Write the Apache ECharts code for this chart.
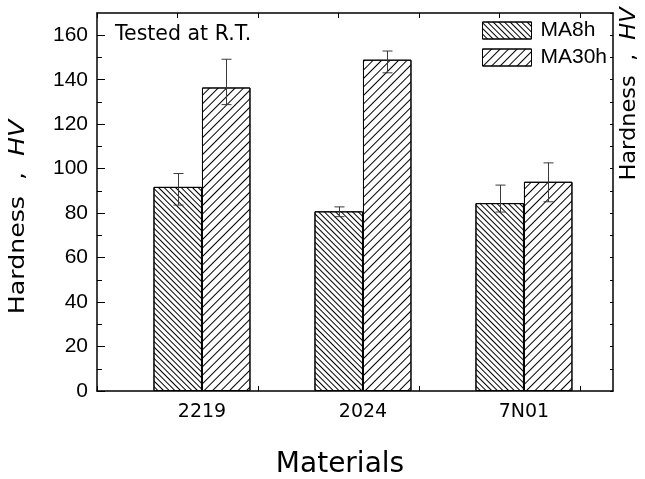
<!DOCTYPE html>
<html><head><meta charset="utf-8">
<script src="https://cdn.jsdelivr.net/npm/echarts@6/dist/echarts.min.js"></script>
<style>html,body{margin:0;padding:0;background:#fff}#c{width:645px;height:479px}</style>
</head><body><div id="c"></div>
<script>
// ---- data ----
const categories = ['2219', '2024', '7N01'];
const seriesNames = ['MA8h', 'MA30h'];
const ma8h = [91.8, 80.8, 84.5];
const ma8hErrHigh = [97.8, 82.8, 92.6];
const ma8hErrLow = [83.6, 78.4, 80.5];
const ma30h = [136.5, 149.0, 94.1];
const ma30hErrHigh = [149.2, 152.9, 102.6];
const ma30hErrLow = [128.8, 143.1, 85.1];
const yTickLabels = [0, 20, 40, 60, 80, 100, 120, 140, 160];

// ---- layout ----
const xMin = 0.348, xMax = 3.553;
const yMin = 0, yMax = 170;
const xTickVals = [];
for (let v = xMin; v <= xMax + 1e-9; v += 0.5) xTickVals.push(+v.toFixed(3));
const yMinorVals = yTickLabels.slice(0, -1).map(v => v + 10);
const yAllVals = [];
for (let v = yMin; v <= yMax; v += 10) yAllVals.push(v);
const catPos = categories.map((c, i) => i + 1);
const BAR_W = 48.5;

const chart = echarts.init(document.getElementById('c'), null, {renderer: 'canvas'});

function errorSeries(name, low, high, dx) {
  return {
    type: 'custom', name: name, xAxisIndex: 0, yAxisIndex: 0, z: 5, silent: true,
    data: low.map((l, i) => [catPos[i], l, high[i]]),
    encode: {x: 0, y: [1, 2]},
    renderItem: function (params, api) {
      const x = api.value(0);
      const lo = api.coord([x, api.value(1)]);
      const hi = api.coord([x, api.value(2)]);
      const cx = Math.round(lo[0] + dx) + 0.5;
      const hw = 5;
      const st = {stroke: '#3a3a3a', lineWidth: 1};
      return {type: 'group', children: [
        {type: 'line', shape: {x1: cx, y1: hi[1], x2: cx, y2: lo[1]}, style: st},
        {type: 'line', shape: {x1: cx - hw, y1: hi[1], x2: cx + hw, y2: hi[1]}, style: st},
        {type: 'line', shape: {x1: cx - hw, y1: lo[1], x2: cx + hw, y2: lo[1]}, style: st}
      ]};
    }
  };
}

const axisLineStyle = {color: '#000', width: 1.5};

const option = {
  animation: false,
  backgroundColor: '#fff',
  grid: {left: 97, right: 32, top: 13, bottom: 88, containLabel: false},
  legend: {
    data: seriesNames, orient: 'vertical', left: 482, top: 20, padding: 0,
    itemWidth: 49, itemHeight: 17, itemGap: 6, icon: 'rect', selectedMode: false,
    itemStyle: {borderColor: '#000', borderWidth: 1},
    textStyle: {fontFamily: 'Liberation Sans', fontSize: 21, color: '#000', padding: [0, 0, 0, 4]}
  },
  xAxis: [
    {type: 'value', position: 'bottom', min: xMin, max: xMax,
     axisLine: {onZero: false, lineStyle: axisLineStyle},
     axisTick: {inside: true, length: 5, customValues: xTickVals, lineStyle: {color: '#000'}},
     axisLabel: {customValues: catPos, formatter: v => categories[Math.round(v) - 1] || '',
                 fontFamily: 'DejaVu Sans', fontSize: 19, color: '#000', margin: 12},
     splitLine: {show: false}},
    {type: 'value', position: 'top', min: xMin, max: xMax,
     axisLine: {onZero: false, lineStyle: axisLineStyle},
     axisTick: {inside: true, length: 5, customValues: xTickVals, lineStyle: {color: '#000'}},
     axisLabel: {show: false}, splitLine: {show: false}}
  ],
  yAxis: [
    {type: 'value', position: 'left', min: yMin, max: yMax,
     axisLine: {show: true, onZero: false, lineStyle: axisLineStyle},
     axisTick: {show: true, inside: true, length: 8, customValues: yTickLabels, lineStyle: {color: '#000'}},
     axisLabel: {customValues: yTickLabels, fontFamily: 'Liberation Sans', fontSize: 21, color: '#000', margin: 9},
     splitLine: {show: false}},
    {type: 'value', position: 'left', min: yMin, max: yMax,
     axisLine: {show: false, onZero: false},
     axisTick: {show: true, inside: true, length: 5, customValues: yMinorVals, lineStyle: {color: '#000'}},
     axisLabel: {show: false}, splitLine: {show: false}},
    {type: 'value', position: 'right', min: yMin, max: yMax,
     axisLine: {show: true, onZero: false, lineStyle: axisLineStyle},
     axisTick: {show: true, inside: true, length: 3, customValues: yAllVals, lineStyle: {color: '#000'}},
     axisLabel: {show: false}, splitLine: {show: false}}
  ],
  series: [
    {type: 'bar', name: seriesNames[0], xAxisIndex: 0, yAxisIndex: 0,
     data: ma8h.map((v, i) => [catPos[i], v]), barWidth: BAR_W, barGap: '0%',
     itemStyle: {color: '#fff', borderColor: '#000', borderWidth: 1,
       decal: {symbol: 'rect', symbolSize: 1, dashArrayX: [1, 0], dashArrayY: [1, 2.5], rotation: Math.PI / 4, color: '#000'}}},
    {type: 'bar', name: seriesNames[1], xAxisIndex: 0, yAxisIndex: 0,
     data: ma30h.map((v, i) => [catPos[i], v]), barWidth: BAR_W, barGap: '0%',
     itemStyle: {color: '#fff', borderColor: '#000', borderWidth: 1,
       decal: {symbol: 'rect', symbolSize: 1, dashArrayX: [1, 0], dashArrayY: [1, 5], rotation: -Math.PI / 4, color: '#000'}}},
    errorSeries('MA8h error', ma8hErrLow, ma8hErrHigh, -BAR_W / 2),
    errorSeries('MA30h error', ma30hErrLow, ma30hErrHigh, BAR_W / 2)
  ],
  graphic: [
    {type: 'text', x: 115, y: 34.5, silent: true,
     style: {text: 'Tested at R.T.', fontFamily: 'DejaVu Sans', fontSize: 20.5, fill: '#000', align: 'left', verticalAlign: 'middle'}},
    {type: 'text', x: 340, y: 465, silent: true,
     style: {text: 'Materials', fontFamily: 'DejaVu Sans', fontSize: 28, fill: '#000', align: 'center', verticalAlign: 'middle'}},
    {type: 'text', x: 19, y: 217, rotation: Math.PI / 2, scaleX: 1.2, silent: true,
     style: {text: 'Hardness  ,  {i|HV}', fontFamily: 'DejaVu Sans', fontSize: 21, fill: '#000', align: 'center', verticalAlign: 'middle',
             rich: {i: {fontStyle: 'italic', fontFamily: 'DejaVu Sans', fontSize: 21, fill: '#000'}}}},
    {type: 'text', x: 630, y: 94, rotation: Math.PI / 2, scaleX: 1.07, silent: true,
     style: {text: 'Hardness  ,  {i|HV}', fontFamily: 'DejaVu Sans', fontSize: 21, fill: '#000', align: 'center', verticalAlign: 'middle',
             rich: {i: {fontStyle: 'italic', fontFamily: 'DejaVu Sans', fontSize: 21, fill: '#000'}}}}
  ]
};
chart.setOption(option);
</script>
</body></html>
